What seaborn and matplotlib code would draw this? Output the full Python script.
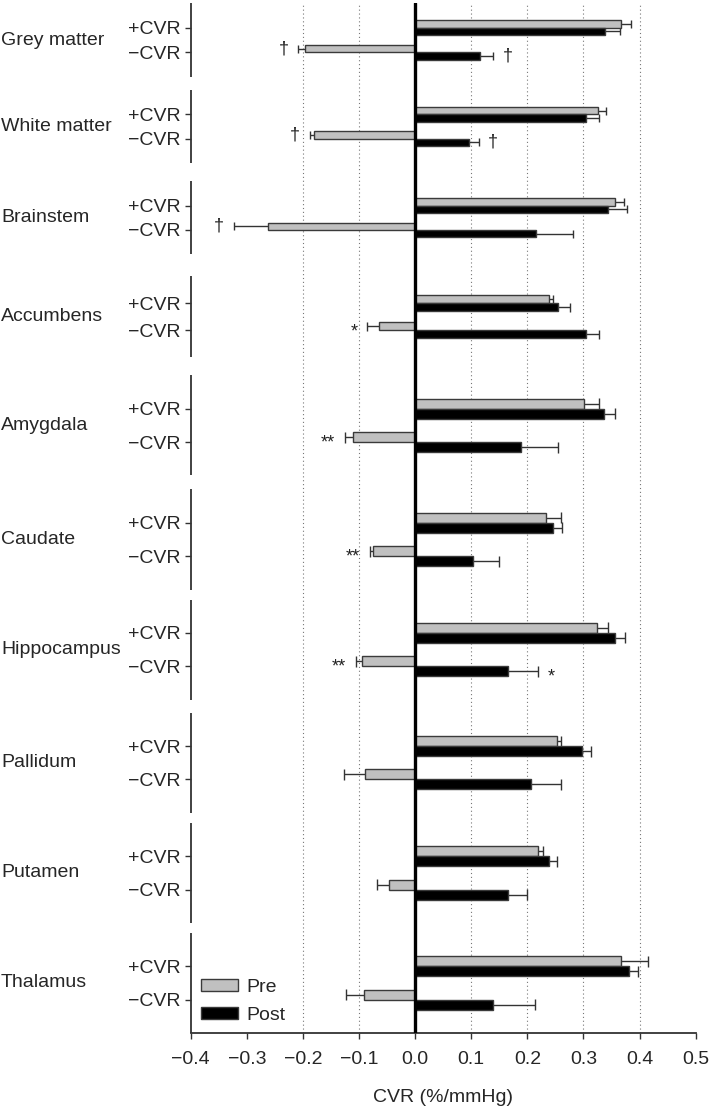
import numpy as np
import pandas as pd
import matplotlib
matplotlib.use('Agg')
import matplotlib.pyplot as plt
from matplotlib.patches import Patch
import seaborn as sns

# Données (CVR en %/mmHg)
regions = ['Grey matter', 'White matter', 'Brainstem', 'Accumbens', 'Amygdala',
           'Caudate', 'Hippocampus', 'Pallidum', 'Putamen', 'Thalamus']
cvr_groups = ['+CVR', '\u2212CVR']
times = ['Pre', 'Post']

pos_pre = [0.366, 0.326, 0.356, 0.238, 0.301, 0.234, 0.324, 0.252, 0.219, 0.367]
pos_pre_err = [0.019, 0.015, 0.017, 0.007, 0.027, 0.026, 0.020, 0.008, 0.008, 0.048]
pos_post = [0.339, 0.304, 0.344, 0.254, 0.337, 0.245, 0.356, 0.298, 0.238, 0.381]
pos_post_err = [0.026, 0.024, 0.033, 0.022, 0.019, 0.017, 0.018, 0.015, 0.015, 0.017]
neg_pre = [-0.196, -0.180, -0.263, -0.065, -0.110, -0.075, -0.094, -0.089, -0.047, -0.092]
neg_pre_err = [0.012, 0.008, 0.060, 0.020, 0.015, 0.006, 0.012, 0.038, 0.021, 0.031]
neg_post = [0.116, 0.096, 0.215, 0.304, 0.189, 0.103, 0.166, 0.206, 0.166, 0.139]
neg_post_err = [0.023, 0.017, 0.067, 0.024, 0.066, 0.046, 0.053, 0.054, 0.033, 0.075]

# Marques de significativité
sig_region = ['Grey matter', 'Grey matter', 'White matter', 'White matter', 'Brainstem',
              'Accumbens', 'Amygdala', 'Caudate', 'Hippocampus', 'Hippocampus']
sig_cvr = ['\u2212CVR'] * 10
sig_time = ['Pre', 'Post', 'Pre', 'Post', 'Pre', 'Pre', 'Pre', 'Pre', 'Pre', 'Post']
sig_mark = ['\u2020', '\u2020', '\u2020', '\u2020', '\u2020', '*', '**', '**', '**', '*']

# Mise en page : hauteur relative de chaque bloc (le haut de la figure est plus serré)
group_unit = [0.74, 0.73, 0.73, 0.81, 1, 1, 1, 1, 1, 1]
group_gaps = [0.39, 0.54, 0.66, 0.54, 0.42, 0.30, 0.39, 0.30, 0.30]

centers = []
y = 0
for i, u in enumerate(group_unit):
    if i > 0:
        y += group_gaps[i - 1]
    centers.append(y + 1.5 * u)
    y += 3 * u
y_total = y
ypos = []
for c, u in zip(centers, group_unit):
    ypos += [c - u / 2, c + u / 2]

rows = []
for i, reg in enumerate(regions):
    vals = [(cvr_groups[0], 'Pre', pos_pre[i], pos_pre_err[i]),
            (cvr_groups[0], 'Post', pos_post[i], pos_post_err[i]),
            (cvr_groups[1], 'Pre', neg_pre[i], neg_pre_err[i]),
            (cvr_groups[1], 'Post', neg_post[i], neg_post_err[i])]
    for cvr, t, v, e in vals:
        rows.append({'Region': reg, 'Group': cvr, 'Time': t, 'CVR': v, 'err': e,
                     'ypos': ypos[2 * i + cvr_groups.index(cvr)]})
df = pd.DataFrame(rows)

sns.set_style('white')
plt.rcParams['font.family'] = ['Liberation Sans', 'DejaVu Sans']

fig = plt.figure(figsize=(7.09, 11.08), dpi=100)
ax = fig.add_axes([190.7 / 709, 1 - 1033 / 1108, 505 / 709, 1030 / 1108])

palette = {'Pre': '#c0c0c0', 'Post': '#000000'}
sns.barplot(data=df, x='CVR', y='ypos', hue='Time', hue_order=times, orient='h',
            native_scale=True, width=0.6, palette=palette, edgecolor='#3a3a3a',
            linewidth=1, errorbar=None, legend=False, ax=ax, zorder=2)

ax.set_xlim(-0.4, 0.5)
ax.set_ylim(y_total, 0)

# ajuster l'épaisseur des barres selon le bloc, puis barres d'erreur et marques
u_min = min(group_unit)
ypos_arr = np.array(ypos)
for p in list(ax.patches):
    h = p.get_height()
    yc = p.get_y() + h / 2
    k = int(np.argmin(np.abs(ypos_arr - yc)))
    g = k // 2
    s = group_unit[g] / u_min
    newc = ypos_arr[k] + (yc - ypos_arr[k]) * s
    newh = h * s
    p.set_y(newc - newh / 2)
    p.set_height(newh)

    t = 'Pre' if yc < ypos_arr[k] else 'Post'
    row = df[(df['Region'] == regions[g]) & (df['Group'] == cvr_groups[k % 2]) & (df['Time'] == t)].iloc[0]
    v = p.get_x() + p.get_width()
    e = row['err']
    end = v + e if v >= 0 else v - e
    # barre d'erreur d'un seul côté, avec un seul trait final
    ax.hlines(newc, v, end, color='#333333', lw=1, zorder=1)
    ax.vlines(end, newc - newh * 0.55, newc + newh * 0.55, color='#333333', lw=1, zorder=1)

    m = [mk for r, c, tt, mk in zip(sig_region, sig_cvr, sig_time, sig_mark)
         if r == regions[g] and c == cvr_groups[k % 2] and tt == t]
    if m:
        dy = -4 if '*' in m[0] else 0
        ax.annotate(m[0], (end, newc), xytext=(7 if v >= 0 else -7, dy),
                    textcoords='offset points', ha='left' if v >= 0 else 'right',
                    va='center', fontsize=13, color='#222222')

# lignes de grille pointillées et axe zéro
for gx in [-0.2, -0.1, 0.1, 0.2, 0.3, 0.4]:
    ax.axvline(gx, color='#777777', lw=0.8, linestyle=(0, (1, 2.5)), zorder=0)
ax.axvline(0, color='black', lw=2.4, zorder=3)

# axe gauche en segments, un par région
for i, (c, u) in enumerate(zip(centers, group_unit)):
    y0 = c - 1.5 * u
    y1 = y_total if i == len(centers) - 1 else c + 1.5 * u
    ax.plot([0, 0], [y0, y1], color='#333333', lw=1.3, transform=ax.get_yaxis_transform(),
            clip_on=False, solid_capstyle='butt')
    ax.text(-0.3756, c, regions[i], transform=ax.get_yaxis_transform(), ha='left',
            va='center', fontsize=14)

for side in ['top', 'right', 'left']:
    ax.spines[side].set_visible(False)
ax.spines['bottom'].set_color('#333333')
ax.spines['bottom'].set_linewidth(1.3)

xticks = np.round(np.arange(-0.4, 0.51, 0.1), 1) + 0.0
ax.set_yticks(ypos)
ax.set_yticklabels(cvr_groups * len(regions), fontsize=14)
ax.set_xticks(xticks)
ax.set_xticklabels([f'{v:.1f}'.replace('-', '\u2212') if v < 0 else f'{abs(v):.1f}' for v in xticks],
                   fontsize=14)
ax.tick_params(axis='y', direction='out', length=4, width=1, pad=3.5, color='#333333', left=True)
ax.tick_params(axis='x', direction='out', length=4, width=1, pad=9, color='#333333', bottom=True)
ax.set_ylabel('')
ax.set_xlabel('CVR (%/mmHg)', fontsize=14, labelpad=15)

handles = [Patch(facecolor=palette[t], edgecolor='#3a3a3a', linewidth=1, label=t) for t in times]
ax.legend(handles=handles, loc='lower left', bbox_to_anchor=(0.02, 0.009), frameon=False,
          fontsize=14, borderpad=0, borderaxespad=0, handlelength=1.9, handleheight=0.62,
          handletextpad=0.45, labelspacing=0.55)

plt.savefig('out.png', dpi=100)
